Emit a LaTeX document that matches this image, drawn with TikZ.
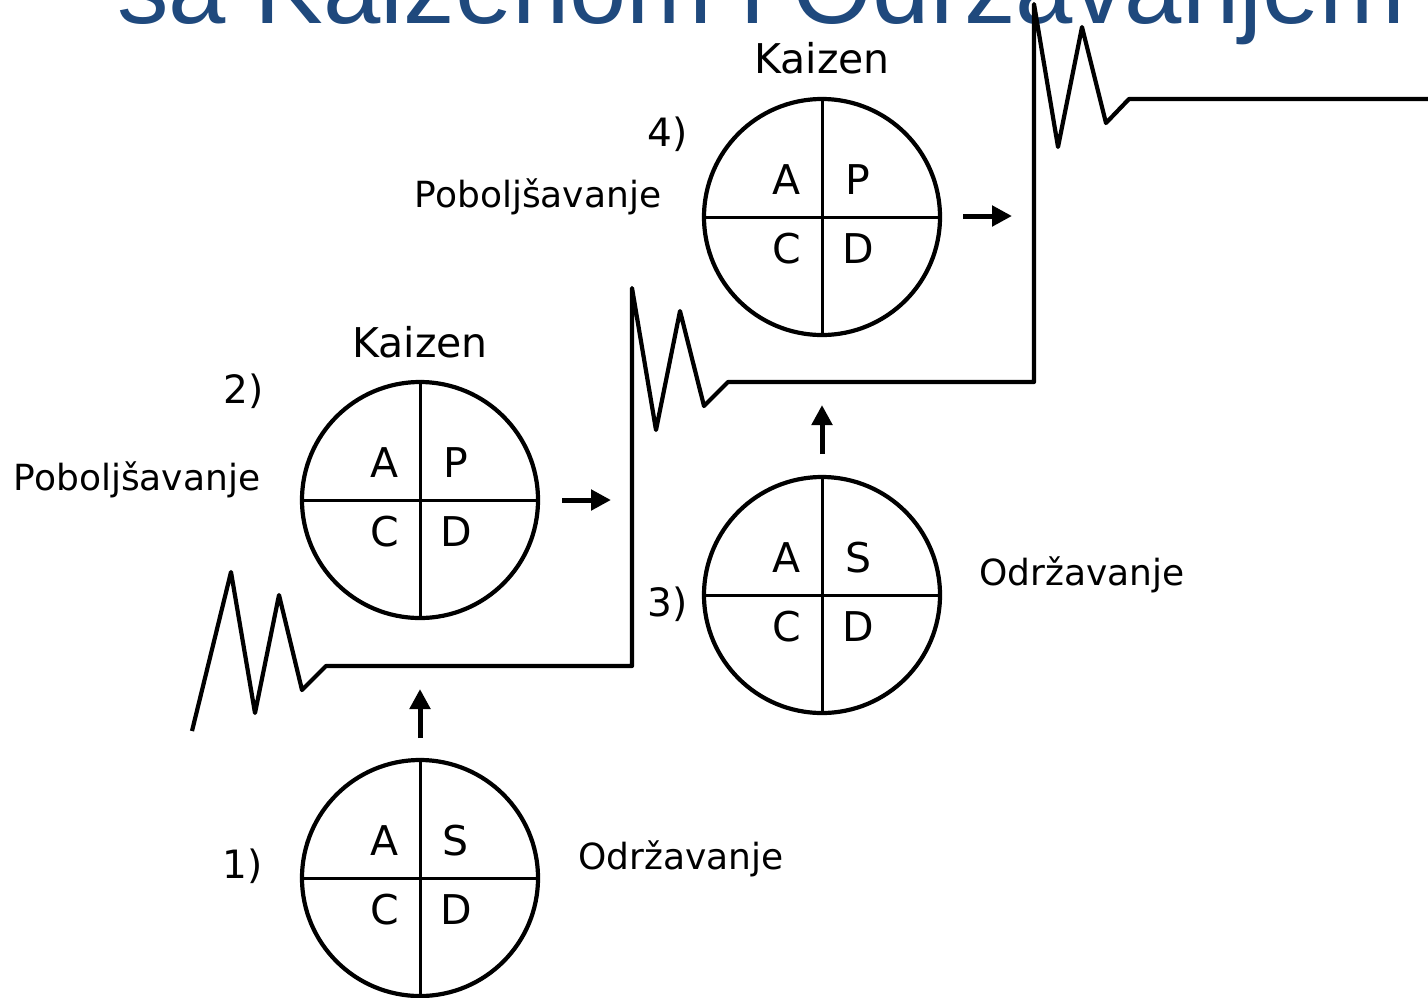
\documentclass[tikz,border=0pt]{standalone}
\usepackage{fontspec}
\setmainfont{DejaVu Sans}
\newfontfamily\titlefont{Liberation Sans}
\usetikzlibrary{arrows.meta}
\definecolor{titleblue}{RGB}{31,73,125}
\begin{document}
\begin{tikzpicture}[x=0.5pt,y=-0.5pt,
  pdca/.style={circle,draw,line width=2.1pt,minimum size=118pt,inner sep=0pt},
  quad/.style={font=\fontsize{20.5}{24}\selectfont,anchor=base,inner sep=0pt},
  lbl/.style={font=\fontsize{18}{21}\selectfont,anchor=base,inner sep=0pt},
  num/.style={font=\fontsize{19.5}{23}\selectfont,anchor=base,inner sep=0pt},
  kz/.style={font=\fontsize{20.5}{24}\selectfont,anchor=base,inner sep=0pt},
  cross/.style={line width=1.5pt},
  stair/.style={line width=2.1pt,line join=round},
  arr/.style={line width=2.5pt,-{Triangle[length=10pt,width=10pt]}},
]
\clip (0,0) rectangle (1428,997);
\fill[white] (0,0) rectangle (1428,997);
\node[anchor=base west,inner sep=0pt,text=titleblue,font=\titlefont\fontsize{51.5}{60}\selectfont] (title) at (117,23) {sa Kaizenom i Održavanjem};

% staircase with zigzags
\draw[stair] (192,731) -- (231,572) -- (255,713) -- (279,595) -- (302,690) -- (326,666)
  -- (632,666) -- (632,288) -- (656,430) -- (680,311) -- (704,406) -- (728,382)
  -- (1034,382) -- (1034,4) -- (1058,147) -- (1082,27) -- (1106,123) -- (1129,99) -- (1440,99);

% circles
\foreach \n/\cx/\cy/\tr in {c1/420/878/S, c2/420/500/P, c3/822/595/S, c4/822/217/P}{
  \node[pdca] (\n) at (\cx,\cy) {};
  \draw[cross] (\n.north) -- (\n.south);
  \draw[cross] (\n.west) -- (\n.east);
  \node[quad] (\n A) at (\cx-35,\cy-23) {A};
  \node[quad] (\n T) at (\cx+36,\cy-23) {\tr};
  \node[quad] (\n C) at (\cx-35,\cy+46) {C};
  \node[quad] (\n D) at (\cx+36,\cy+46) {D};
}

% arrows
\coordinate (a1s) at (420,738); \coordinate (a1e) at (420,689);
\coordinate (a2s) at (562,500); \coordinate (a2e) at (611,500);
\coordinate (a3s) at (822,454); \coordinate (a3e) at (822,405);
\coordinate (a4s) at (963,216); \coordinate (a4e) at (1012,216);
\draw[arr] (a1s) -- (a1e);
\draw[arr] (a2s) -- (a2e);
\draw[arr] (a3s) -- (a3e);
\draw[arr] (a4s) -- (a4e);

% labels
\node[num] (n1) at (243,878) {1)};
\node[num] (n2) at (243.5,403) {2)};
\node[num] (n3) at (667.5,616) {3)};
\node[num] (n4) at (667.5,146) {4)};
\node[lbl] (pob1) at (137,490) {Poboljšavanje};
\node[lbl] (pob2) at (538,207) {Poboljšavanje};
\node[lbl] (odr1) at (1082,585) {Održavanje};
\node[lbl] (odr2) at (681,869) {Održavanje};
\node[kz] (kz1) at (420,357) {Kaizen};
\node[kz] (kz2) at (822,73) {Kaizen};
\end{tikzpicture}
\end{document}
